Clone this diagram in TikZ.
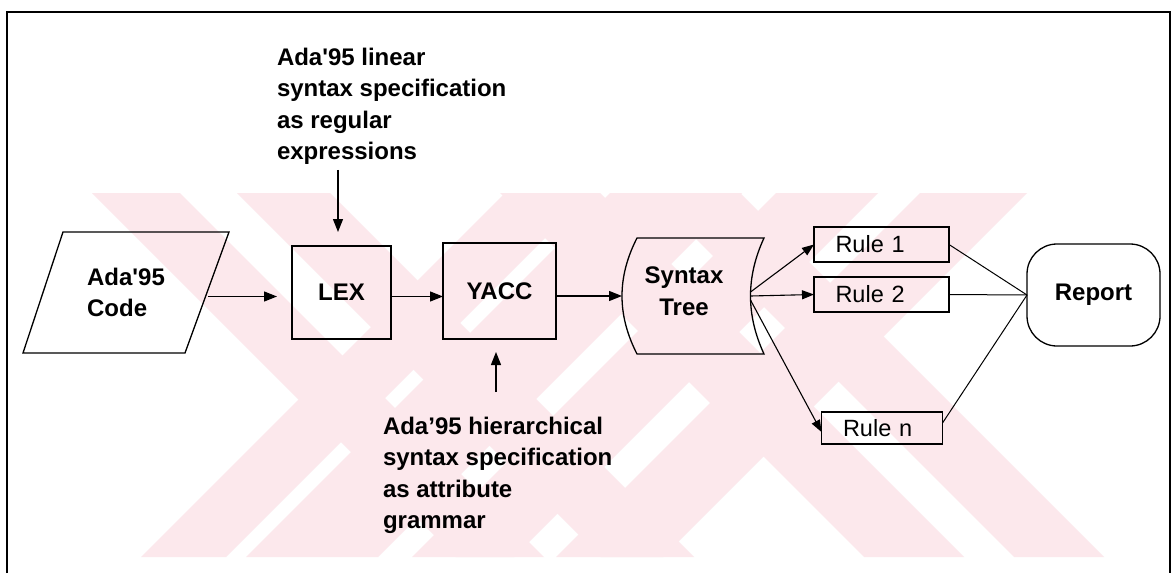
\documentclass[tikz,border=0pt]{standalone}
\usepackage{fontspec}
\setmainfont{Liberation Sans}
\usetikzlibrary{arrows.meta,calc}
\definecolor{wmpink}{RGB}{252,232,236}

\begin{document}
\begin{tikzpicture}[x=1pt,y=-1pt,
  every node/.style={inner sep=0pt, outer sep=0pt},
  bigtext/.style={font=\bfseries\fontsize{24}{31.5}\selectfont},
  ruletext/.style={font=\fontsize{23.5}{28}\selectfont},
  line/.style={line width=1.3pt, black},
  thinline/.style={line width=1pt, black},
  arr/.style={line, -{Triangle[length=13pt,width=10pt]}},
  smallarr/.style={line width=1.1pt, -{Triangle[length=12pt,width=9pt]}},
  boxnode/.style={draw, line width=1.3pt, bigtext, align=center},
  rulebox/.style={draw, line width=1.2pt, ruletext, align=left, inner xsep=21.5pt, minimum height=35pt},
]
\useasboundingbox (0,0) rectangle (1172,573);
\fill[white] (0,0) rectangle (1172,573);

% background stripes: falling (\) and rising (/) bands between y=193 and y=557
\foreach \l/\r in {92/180, 237/330, 500/600, 650/740}
  \fill[wmpink] (\l,193) -- (\r,193) -- (\r+364,557) -- (\l+364,557) -- cycle;
\foreach \l/\r in {505/590, 610/742, 776/878, 920/1027}
  \fill[wmpink] (\l,193) -- (\r,193) -- (\r-364,557) -- (\l-364,557) -- cycle;

% frame
\draw[line width=1.2pt] (7,573) -- (7,12) -- (1170,12) -- (1170,573);

% input: parallelogram
\node[bigtext, align=left, minimum width=206pt, minimum height=121pt] (code) at (126,292.5) {Ada\textquotesingle95\\Code};
\draw[line] ($(code.north west)+(40,0)$) -- (code.north east) -- ($(code.south east)+(-44,0)$) -- (code.south west) -- cycle;
\coordinate (codeout) at ($(code.east)+(-21,4)$);

% scanner and parser
\node[boxnode, minimum width=99pt, minimum height=93pt] (lex) at (341.5,292.5) {LEX};
\node[boxnode, minimum width=113pt, minimum height=96pt] (yacc) at (499.5,291) {YACC};

% specifications
\node[bigtext, align=left, anchor=north west] (lin) at (277,48)
  {Ada\textquotesingle95 linear\\syntax specification\\as regular\\expressions};
\node[bigtext, align=left, anchor=north west] (hier) at (383,417)
  {Ada’95 hierarchical\\syntax specification\\as attribute\\grammar};

% syntax tree (stored data)
\node[minimum width=127pt, minimum height=116pt] (tree) at (700.5,296) {};
\draw[line] (tree.north west) -- (tree.north east)
  .. controls ($(tree.north east)+(-18,39)$) and ($(tree.south east)+(-18,-39)$) .. (tree.south east)
  -- (tree.south west)
  .. controls ($(tree.south west)+(-20,-39)$) and ($(tree.north west)+(-20,39)$) .. (tree.north west)
  -- cycle;
\node[bigtext, align=center] (treelabel) at (684,291) {Syntax\\Tree};
\coordinate (treein) at ($(tree.west)+(-15,0)$);
\coordinate (treeout) at ($(tree.east)+(-13.5,0)$);

% rules
\node[rulebox, text width=92pt] (r1) at (881.5,244.5) {Rule 1};
\node[rulebox, text width=92pt] (r2) at (881.5,294.5) {Rule 2};
\node[rulebox, text width=78pt, minimum height=32pt] (rn) at (882,428) {Rule n};

% report
\node[draw, line width=1.3pt, rounded corners=30pt, minimum width=133pt, minimum height=102pt, bigtext] (rep) at (1093.5,295) {Report};

% connectors
\draw[arr, shorten >=15pt] (codeout) -- ([yshift=-4pt]lex.west);
\draw[arr] ([yshift=-4pt]lex.east) -- ([yshift=-4pt]lex.east -| yacc.west);
\draw[arr] ([yshift=-5pt]yacc.east) -- (treein);
\draw[arr, shorten >=14pt] ($(lex.north |- lin.south)+(-3.5,5)$) -- ([xshift=-3.5pt]lex.north);
\draw[arr, shorten >=13pt] ($(yacc.south |- hier.north)+(-3.5,-25)$) -- ([xshift=-3.5pt]yacc.south);
\draw[smallarr] ([yshift=4pt]treeout) -- (r1.west);
\draw[smallarr] (treeout) -- (r2.west);
\draw[smallarr] ([yshift=-4pt]treeout) -- ([yshift=-4pt]rn.west);
\draw[thinline] (r1.east) -- (rep.west);
\draw[thinline] (r2.east) -- (rep.west);
\draw[thinline] ([yshift=5pt]rn.east) -- (rep.west);
\end{tikzpicture}
\end{document}
